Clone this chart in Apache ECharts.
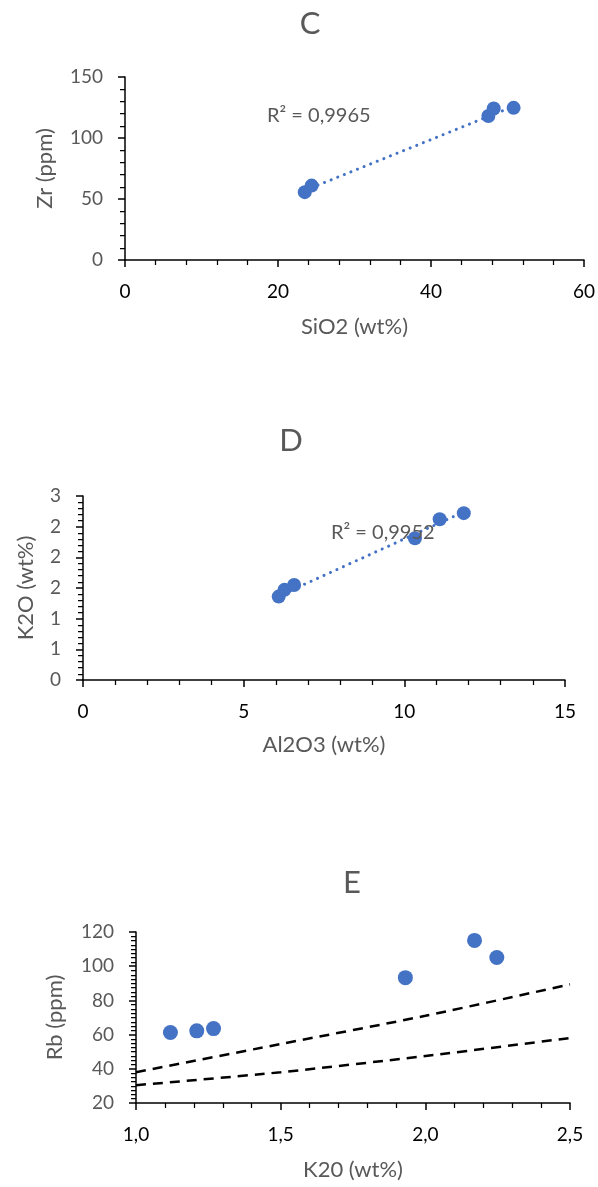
<!DOCTYPE html>
<html>
<head>
<meta charset="utf-8">
<script src="https://cdn.jsdelivr.net/npm/echarts@6/dist/echarts.min.js"></script>
<style>
  html, body { margin: 0; padding: 0; background: #fff; }
  #chart { width: 598px; height: 1187px; }
</style>
</head>
<body>
<div id="chart"></div>
<script>
// panel C
const sio2 = [23.5, 24.4, 47.5, 48.2, 50.8];
const zr = [55.6, 61.0, 118.0, 124.2, 124.7];
const zrTrendX = [23.5, 50.8];
const zrTrendY = [57, 126];

// panel D
const al2o3 = [6.09, 6.27, 6.57, 10.33, 11.1, 11.85];
const k2o = [1.36, 1.47, 1.55, 2.31, 2.62, 2.72];
const k2oTrendX = [6.09, 11.85];
const k2oTrendY = [1.37, 2.74];
const dYTicks = ['0', '1', '1', '2', '2', '2', '3'];

// panel E
const k2oE = [1.119, 1.21, 1.268, 1.931, 2.17, 2.247];
const rb = [61.2, 62.2, 63.5, 93.3, 115.1, 105.1];
const refX = [1.0, 1.5, 2.0, 2.5];
const refUpper = [38, 54.5, 71, 89.4];
const refLower = [30.4, 38, 47.5, 58];
const eXTicks = ['1,0', '1,5', '2,0', '2,5'];

const FONT = 'Lato';
const GREY = '#595959';
const BLUE = '#4472C4';

const chart = echarts.init(document.getElementById('chart'));

function axisBase(isX) {
  return {
    type: 'value',
    axisLine: { show: true, onZero: false, lineStyle: { color: '#000', width: 1.5 } },
    axisTick: { show: true, inside: false, length: 7, lineStyle: { color: '#000', width: 1.5 } },
    minorTick: { show: true, splitNumber: 5, length: 5, lineStyle: { color: '#000', width: 1.25 } },
    splitLine: { show: false },
    axisLabel: { fontFamily: FONT, fontSize: 19, color: isX ? '#000' : GREY, margin: 22 },
    nameLocation: 'middle',
    nameMoveOverlap: false,
    nameTextStyle: { fontFamily: FONT, fontSize: 22, color: GREY }
  };
}

const zip = (a, b) => a.map((v, i) => [v, b[i]]);

const option = {
  animation: false,
  backgroundColor: '#fff',
  title: [
    { text: 'C', left: 310, top: 8, textAlign: 'center', padding: 0,
      textStyle: { fontFamily: FONT, fontSize: 31, fontWeight: 'normal', color: GREY } },
    { text: 'D', left: 291, top: 425, textAlign: 'center', padding: 0,
      textStyle: { fontFamily: FONT, fontSize: 31, fontWeight: 'normal', color: GREY } },
    { text: 'E', left: 352, top: 867, textAlign: 'center', padding: 0,
      textStyle: { fontFamily: FONT, fontSize: 31, fontWeight: 'normal', color: GREY } }
  ],
  grid: [
    { left: 125, top: 77, width: 460, height: 183 },
    { left: 83, top: 496, width: 482, height: 184 },
    { left: 136, top: 932, width: 434, height: 171 }
  ],
  xAxis: [
    Object.assign(axisBase(true), { gridIndex: 0, min: 0, max: 60, interval: 20,
      name: 'SiO2 (wt%)', nameGap: 56 }),
    Object.assign(axisBase(true), { gridIndex: 1, min: 0, max: 15, interval: 5,
      name: 'Al2O3 (wt%)', nameGap: 54 }),
    Object.assign(axisBase(true), { gridIndex: 2, min: 1, max: 2.5, interval: 0.5,
      name: 'K20 (wt%)', nameGap: 56 })
  ],
  yAxis: [
    Object.assign(axisBase(false), { gridIndex: 0, min: 0, max: 150, interval: 50,
      name: 'Zr (ppm)', nameGap: 69 }),
    Object.assign(axisBase(false), { gridIndex: 1, min: 0, max: 3, interval: 0.5,
      name: 'K2O (wt%)', nameGap: 46 }),
    Object.assign(axisBase(false), { gridIndex: 2, min: 20, max: 120, interval: 20,
      name: 'Rb (ppm)', nameGap: 70 })
  ],
  graphic: [
    { type: 'text', left: 267, top: 106,
      style: { text: 'R² = 0,9965', fill: GREY, fontFamily: FONT, fontSize: 20 } },
    { type: 'text', left: 331, top: 523, z: 10,
      style: { text: 'R² = 0,9952', fill: GREY, fontFamily: FONT, fontSize: 20 } }
  ],
  series: [
    {
      type: 'line', xAxisIndex: 0, yAxisIndex: 0, symbol: 'none', z: 1,
      data: zip(zrTrendX, zrTrendY),
      lineStyle: { color: BLUE, width: 3, type: [0.1, 7], cap: 'round' }
    },
    {
      type: 'scatter', xAxisIndex: 0, yAxisIndex: 0, symbolSize: 14, z: 2,
      data: zip(sio2, zr), itemStyle: { color: BLUE, opacity: 1 }
    },
    {
      type: 'line', xAxisIndex: 1, yAxisIndex: 1, symbol: 'none', z: 1,
      data: zip(k2oTrendX, k2oTrendY),
      lineStyle: { color: BLUE, width: 3, type: [0.1, 7], cap: 'round' }
    },
    {
      type: 'scatter', xAxisIndex: 1, yAxisIndex: 1, symbolSize: 14, z: 2,
      data: zip(al2o3, k2o), itemStyle: { color: BLUE, opacity: 1 }
    },
    {
      type: 'line', xAxisIndex: 2, yAxisIndex: 2, symbol: 'none', smooth: 0.3,
      data: zip(refX, refUpper),
      lineStyle: { color: '#000', width: 2.5, type: [10, 7] }
    },
    {
      type: 'line', xAxisIndex: 2, yAxisIndex: 2, symbol: 'none', smooth: 0.3,
      data: zip(refX, refLower),
      lineStyle: { color: '#000', width: 2.5, type: [10, 7] }
    },
    {
      type: 'scatter', xAxisIndex: 2, yAxisIndex: 2, symbolSize: 15, z: 3,
      data: zip(k2oE, rb), itemStyle: { color: BLUE, opacity: 1 }
    }
  ]
};

// tick label text for the rounded / comma-decimal axes
option.yAxis[1].axisLabel.formatter = (v) => dYTicks[Math.round(v / 0.5)];
option.xAxis[2].axisLabel.formatter = (v) => eXTicks[Math.round((v - 1) / 0.5)];
option.yAxis[2].minorTick = Object.assign({}, option.yAxis[2].minorTick, { splitNumber: 8 });

chart.setOption(option);
</script>
</body>
</html>
